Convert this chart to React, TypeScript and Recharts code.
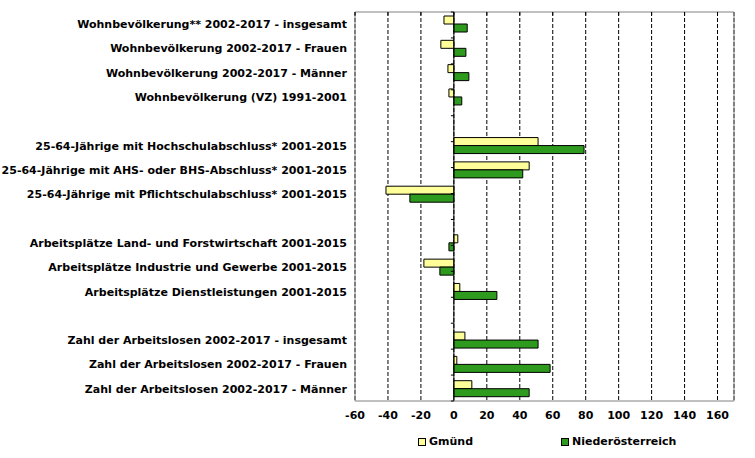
import React from 'react';
import { BarChart, Bar, XAxis, YAxis, CartesianGrid, ReferenceLine, ReferenceArea } from 'recharts';

const categories = [
  'Wohnbevölkerung** 2002-2017 - insgesamt',
  'Wohnbevölkerung 2002-2017 - Frauen',
  'Wohnbevölkerung 2002-2017 - Männer',
  'Wohnbevölkerung (VZ) 1991-2001',
  '',
  '25-64-Jährige mit Hochschulabschluss* 2001-2015',
  '25-64-Jährige mit AHS- oder BHS-Abschluss* 2001-2015',
  '25-64-Jährige mit Pflichtschulabschluss* 2001-2015',
  '',
  'Arbeitsplätze Land- und Forstwirtschaft 2001-2015',
  'Arbeitsplätze Industrie und Gewerbe 2001-2015',
  'Arbeitsplätze Dienstleistungen 2001-2015',
  '',
  'Zahl der Arbeitslosen 2002-2017 - insgesamt',
  'Zahl der Arbeitslosen 2002-2017 - Frauen',
  'Zahl der Arbeitslosen 2002-2017 - Männer',
];

const gmuend: (number | null)[] = [-6.0, -7.9, -3.6, -3.0, null, 51.1, 45.7, -41.2, null, 2.4, -18.2, 3.6, null, 6.7, 1.8, 10.9];
const niederoesterreich: (number | null)[] = [8.1, 7.3, 9.1, 4.8, null, 79.0, 41.8, -26.7, null, -3.0, -8.5, 26.1, null, 51.1, 58.4, 45.7];
const xTicks = [-60, -40, -20, 0, 20, 40, 60, 80, 100, 120, 140, 160];
const seriesNames = ['Gmünd', 'Niederösterreich'];

const YELLOW = '#FFFF99';
const GREEN = '#2F9B1E';
const FONT = '"DejaVu Sans", Verdana, sans-serif';
const FS = 11;

const data = categories.map((name, i) => ({
  key: 'c' + i,
  name,
  gmuend: gmuend[i],
  noe: niederoesterreich[i],
}));

const boundaries = categories.map((_, i) => i).concat([categories.length]);

const CategoryTick = (props: any) => {
  const { x, y, payload } = props;
  const idx = data.findIndex((d) => d.key === payload.value);
  const label = idx >= 0 ? data[idx].name : '';
  return (
    <text x={x} y={y} dy="0.36em" textAnchor="end" fontFamily={FONT} fontWeight="bold" fontSize={FS} fill="#000">
      {label}
    </text>
  );
};

const LegendBlock = () => (
  <div style={{ position: 'absolute', left: 0, top: 434, width: 755, height: 16, fontFamily: FONT, fontWeight: 'bold', fontSize: FS }}>
    {[{ n: seriesNames[0], c: YELLOW, l: 418 }, { n: seriesNames[1], c: GREEN, l: 561 }].map((it) => (
      <div key={it.n} style={{ position: 'absolute', left: it.l, top: 0, display: 'flex', alignItems: 'center', whiteSpace: 'nowrap', lineHeight: '16px' }}>
        <span style={{ display: 'inline-block', width: 6, height: 6, background: it.c, border: '1px solid #000', marginRight: 3 }} />
        <span>{it.n}</span>
      </div>
    ))}
  </div>
);

export default function App() {
  return (
    <div style={{ position: 'absolute', left: 0, top: 0, width: 755, height: 458, background: '#fff' }}>
      <BarChart
        width={755}
        height={458}
        data={data}
        layout="vertical"
        margin={{ top: 12, right: 21, left: 0, bottom: 37 }}
        barSize={8}
        barGap={0}
      >
        <CartesianGrid horizontal={false} vertical={true} stroke="#000" strokeDasharray="4 2" />
        <ReferenceArea x1={-60} x2={170} fill="none" stroke="#808080" strokeWidth={1} ifOverflow="visible" />
        <XAxis
          type="number"
          domain={[-60, 170]}
          ticks={xTicks}
          allowDataOverflow
          axisLine={false}
          tickLine={false}
          height={20}
          tickMargin={4}
          tick={{ fontFamily: FONT, fontWeight: 'bold', fontSize: FS, fill: '#000' }}
        />
        <YAxis
          type="category"
          dataKey="key"
          width={355}
          axisLine={false}
          tickLine={false}
          tickSize={0}
          tickMargin={8}
          interval={0}
          tick={<CategoryTick />}
        />
        <YAxis yAxisId="n" type="number" domain={[0, categories.length]} hide />
        {xTicks.map((t) => (
          <ReferenceLine
            key={'xt' + t}
            yAxisId="n"
            segment={[{ x: t, y: 0 }, { x: t, y: 0.13 }]}
            stroke="#000"
            strokeWidth={1}
          />
        ))}
        <Bar dataKey="gmuend" name={seriesNames[0]} fill={YELLOW} stroke="#000" strokeWidth={1} isAnimationActive={false} />
        <Bar dataKey="noe" name={seriesNames[1]} fill={GREEN} stroke="#000" strokeWidth={1} isAnimationActive={false} />
        <ReferenceLine x={0} stroke="#000" strokeWidth={1} />
        {boundaries.map((b) => (
          <ReferenceLine
            key={'t' + b}
            yAxisId="n"
            segment={[{ x: -1.8, y: b }, { x: 0, y: b }]}
            stroke="#000"
            strokeWidth={1}
          />
        ))}
      </BarChart>
      <LegendBlock />
    </div>
  );
}
